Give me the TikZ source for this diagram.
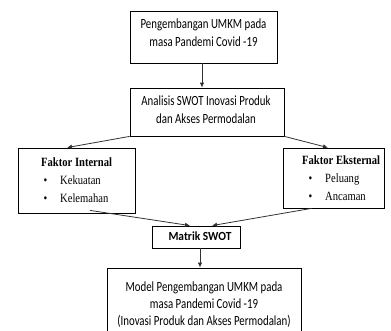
\documentclass[tikz,border=0pt]{standalone}
\usepackage{fontspec}
\usepackage{graphicx}
\setmainfont{Liberation Serif}
\setsansfont{Carlito}
\usetikzlibrary{arrows.meta,calc}
\newcommand{\sqsans}[1]{\scalebox{0.775}[1]{\fontsize{14}{18}\selectfont\begin{tabular}[t]{@{}c@{}}#1\end{tabular}}}
\newcommand{\sqlast}[1]{\scalebox{0.775}[1]{\fontsize{14}{17}\selectfont\begin{tabular}[t]{@{}c@{}}#1\end{tabular}}}
\newcommand{\sqser}[1]{\scalebox{0.84}[1]{\fontsize{12.6}{18}\selectfont\begin{tabular}[t]{@{}l@{}}#1\end{tabular}}}
\begin{document}
\begin{tikzpicture}[x=1pt,y=-1pt,
  box/.style={draw=black,line width=0.8pt,inner sep=0pt},
  txt/.style={anchor=base,inner sep=0pt,font=\sffamily},
  sertxt/.style={anchor=base west,inner sep=0pt,font=\rmfamily},
  arr/.style={draw=black!80,line width=0.8pt,-{Latex[length=5pt,width=4.5pt]}}]
\useasboundingbox (0,0) rectangle (391,331);
\clip (0,0) rectangle (391,331);
\fill[white] (0,0) rectangle (391,331);
% boxes
\node[box,minimum width=147pt,minimum height=52pt] (b1) at (203.5,37) {};
\node[box,minimum width=154pt,minimum height=48pt] (b2) at (207,112) {};
\node[box,minimum width=117pt,minimum height=65pt] (bl) at (76.5,180.5) {};
\node[box,minimum width=101pt,minimum height=60pt] (br) at (333.5,178) {};
\node[box,minimum width=88pt,minimum height=22pt] (bm) at (196,237) {};
\node[box,minimum width=194pt,minimum height=76pt] (b5) at (204,306) {};
% texts
\node[txt] (t1) at (203.5,29) {\sqsans{Pengembangan UMKM pada\\masa Pandemi Covid -19}};
\node[txt] (t2) at (206,106) {\sqsans{Analisis SWOT Inovasi Produk\\dan Akses Permodalan}};
\node[sertxt] (tl) at (41,167)
  {\sqser{\textbf{Faktor Internal}\\\hspace*{3pt}\textbullet\hspace*{15.2pt}Kekuatan\\\hspace*{3pt}\textbullet\hspace*{15.2pt}Kelemahan}};
\node[sertxt] (tr) at (302,165)
  {\sqser{\textbf{Faktor Eksternal}\\\hspace*{7.7pt}\textbullet\hspace*{15.3pt}Peluang\\\hspace*{7.7pt}\textbullet\hspace*{15.3pt}Ancaman}};
\node[txt] (tm) at (200,241) {\scalebox{0.92}[1]{\fontsize{12.4}{14}\selectfont\bfseries Matrik SWOT}};
\node[txt] (t5) at (204,291) {\sqlast{Model Pengembangan UMKM pada\\masa Pandemi Covid -19\\(Inovasi Produk dan Akses Permodalan)}};
% connectors
\draw[arr] ([xshift=-1.5pt]b1.south) -- ([xshift=-1.5pt]b1.south |- b2.north);
\draw[arr] (b2.south west) -- ([xshift=-9.5pt]bl.north);
\draw[arr] (b2.south east) -- ([xshift=-5.5pt]br.north);
\draw[arr] ($(bl.south)+(13.5,-3)$) -- ([xshift=-6pt]bm.north);
\draw[arr] ($(br.south)+(-22,0)$) -- ([xshift=16pt]bm.north);
\draw[arr] ([xshift=4pt]bm.south) -- ([xshift=4pt]bm.south |- b5.north);
\end{tikzpicture}
\end{document}
